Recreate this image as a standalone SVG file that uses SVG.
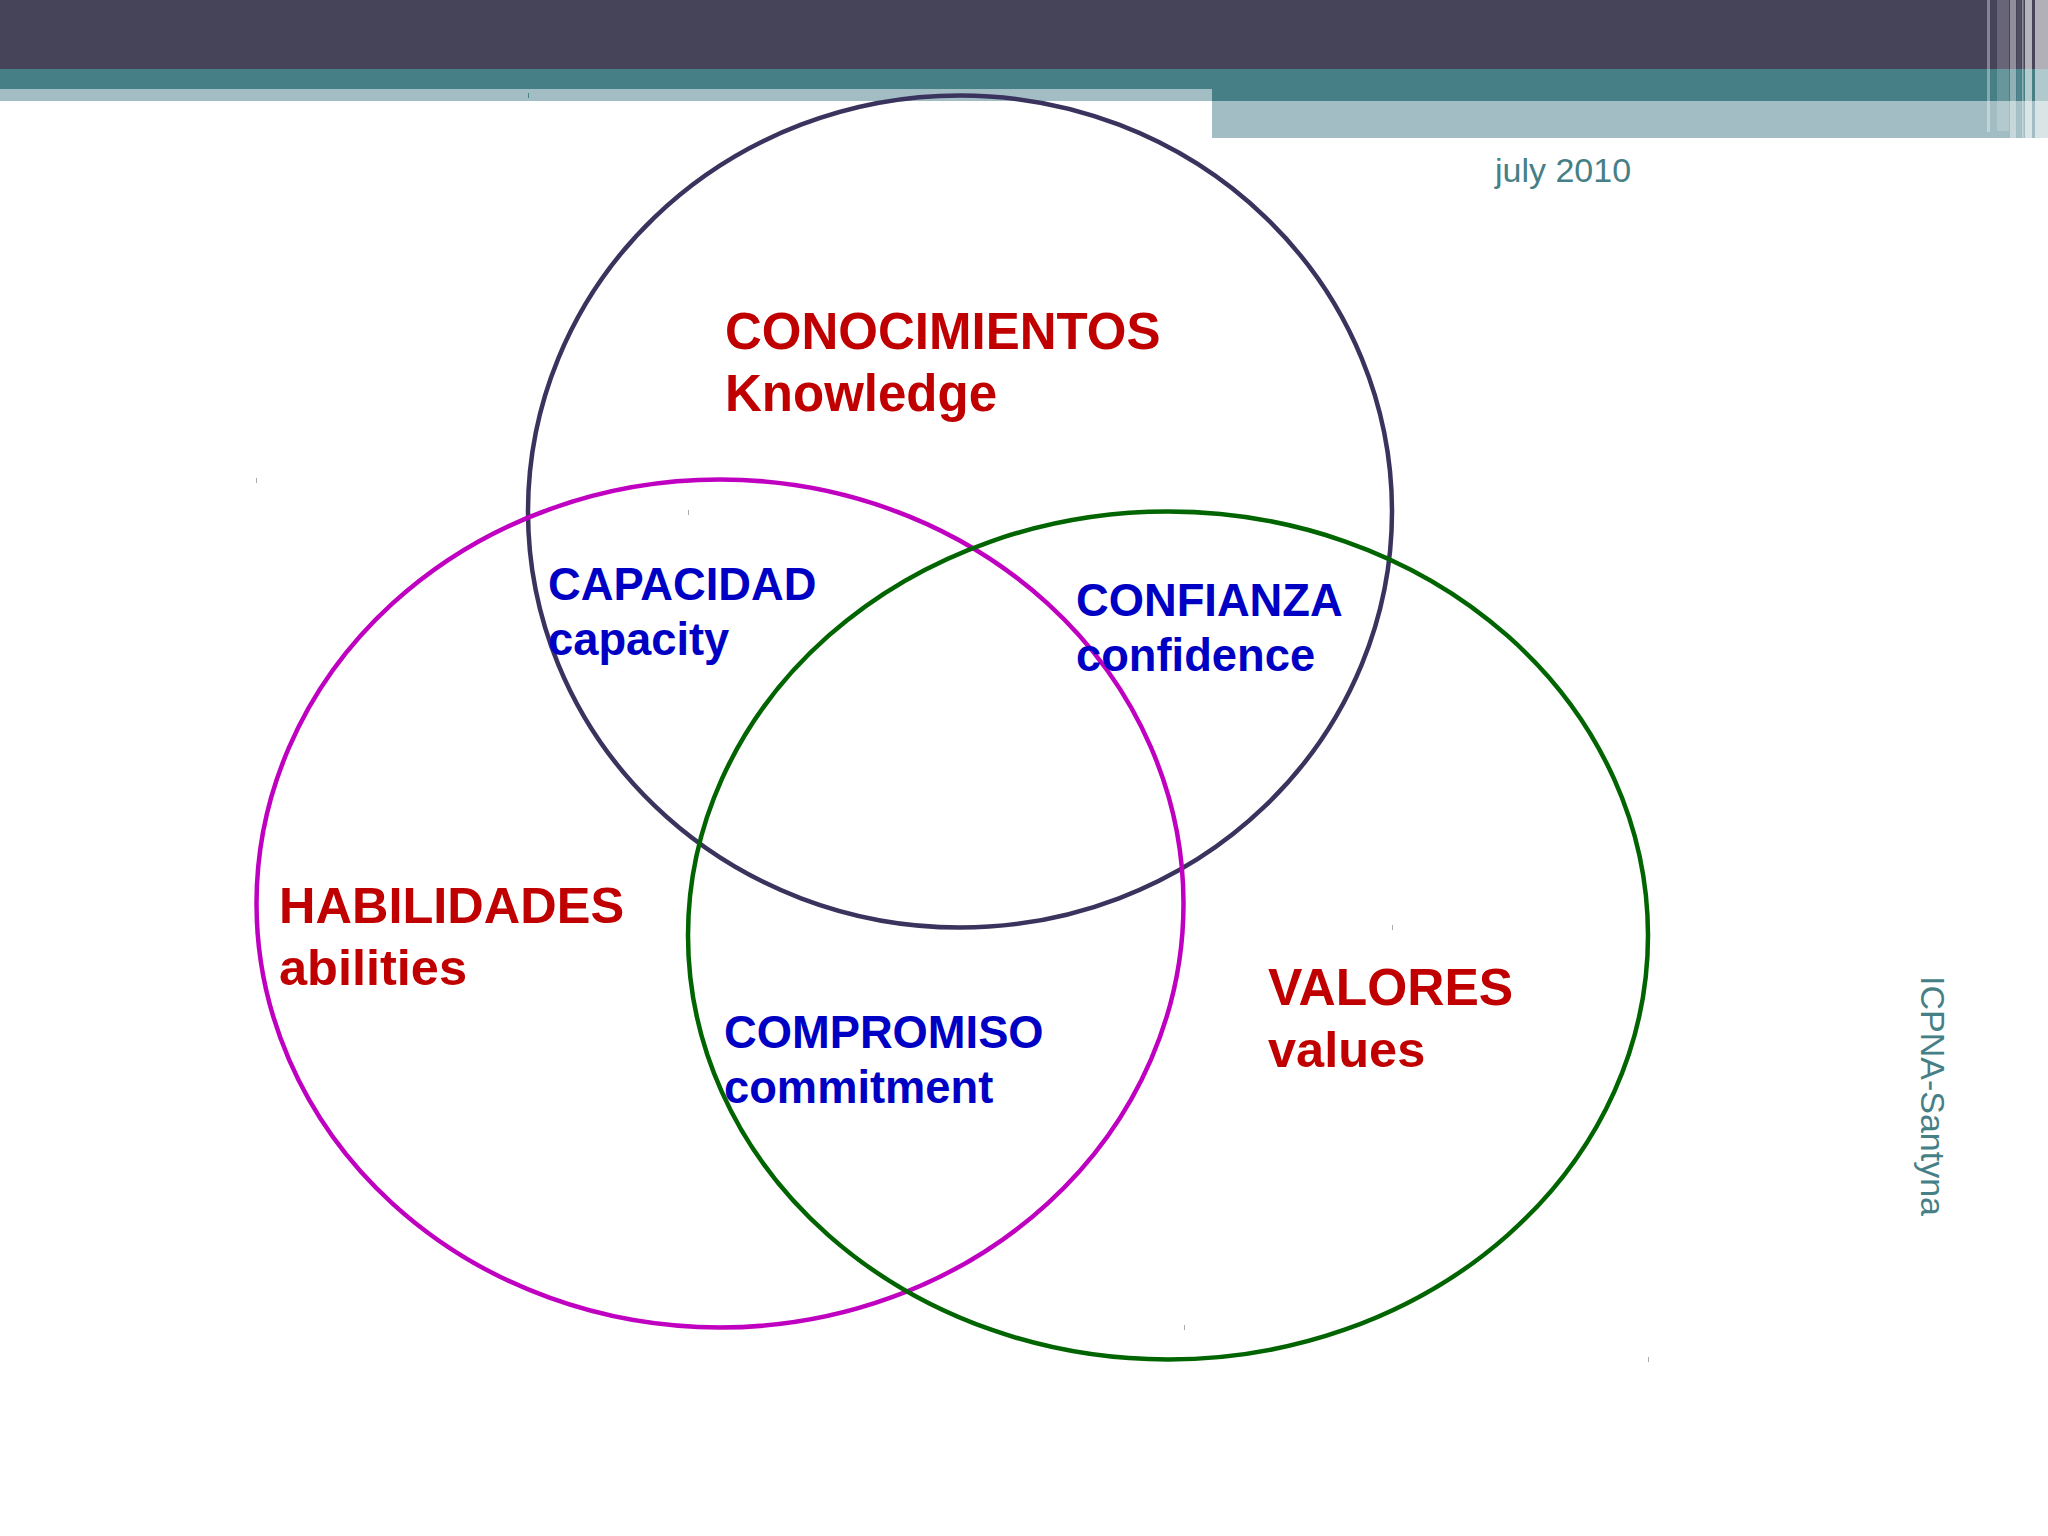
<svg xmlns="http://www.w3.org/2000/svg" width="2048" height="1536" viewBox="0 0 2048 1536">
<style>
.c{fill:none;stroke-width:4.5}
text{font-family:"Liberation Sans",Arial,sans-serif}
.r{font-weight:bold;font-size:51px;fill:#c00000}
.b{font-weight:bold;font-size:45.300px;fill:#0000c4}
.t{font-size:34px;fill:#467f86}
.s{fill:#fff}
.k{fill:#aaa}
</style>
<rect width="2048" height="1536" fill="#fff"/>
<g id="header">
<rect width="2048" height="69" fill="#464459"/>
<rect y="69" width="2048" height="32" fill="#467f86"/>
<rect y="89" width="1212" height="12" fill="#a2bec4"/>
<rect x="1212" y="101" width="836" height="37" fill="#a2bec4"/>
<rect x="528" y="93" width="1" height="5" fill="#467f86"/>
<rect class="s" x="1987" width="3" height="132" opacity=".35"/>
<rect class="s" x="1997" width="12" height="131" opacity=".18"/>
<rect class="s" x="2010" width="6" height="138" opacity=".4"/>
<rect class="s" x="2017" width="4" height="138" opacity=".06"/>
<rect class="s" x="2022" width="1.500" height="138" opacity=".4"/>
<rect class="s" x="2025" width="7" height="138" opacity=".6"/>
<rect class="s" x="2035" width="13" height="138" opacity=".58"/>
</g>
<g id="specks">
<rect class="k" x="256" y="478" width="1" height="5"/>
<rect class="k" x="688" y="510" width="1" height="5"/>
<rect class="k" x="1392" y="925" width="1" height="5"/>
<rect class="k" x="1184" y="1325" width="1" height="5"/>
<rect class="k" x="1648" y="1357" width="1" height="5"/>
</g>
<g id="conocimientos">
<ellipse class="c" cx="960" cy="511.500" rx="432" ry="416" stroke="#39335e"/>
<text class="r"><tspan x="725" y="349">CONOCIMIENTOS</tspan><tspan x="725" y="411">Knowledge</tspan></text>
</g>
<g id="habilidades">
<ellipse class="c" cx="720" cy="903.500" rx="463.500" ry="424" stroke="#c000c0"/>
<text class="r" style="font-size:50.500px"><tspan x="279" y="923">HABILIDADES</tspan><tspan x="279" y="985">abilities</tspan></text>
</g>
<g id="valores">
<ellipse class="c" cx="1168" cy="935.500" rx="480" ry="424" stroke="#006400"/>
<text class="r"><tspan x="1268" y="1005" style="font-size:51.500px">VALORES</tspan><tspan x="1268" y="1067" style="font-size:50.500px">values</tspan></text>
</g>
<g id="capacidad"><text class="b"><tspan x="548" y="600">CAPACIDAD</tspan><tspan x="548" y="655">capacity</tspan></text></g>
<g id="confianza"><text class="b"><tspan x="1076" y="616">CONFIANZA</tspan><tspan x="1076" y="671">confidence</tspan></text></g>
<g id="compromiso"><text class="b"><tspan x="724" y="1048">COMPROMISO</tspan><tspan x="724" y="1103">commitment</tspan></text></g>
<text class="t" x="1495" y="182">july 2010</text>
<text class="t" transform="translate(1921 976) rotate(90)">ICPNA-Santyna</text>
</svg>
